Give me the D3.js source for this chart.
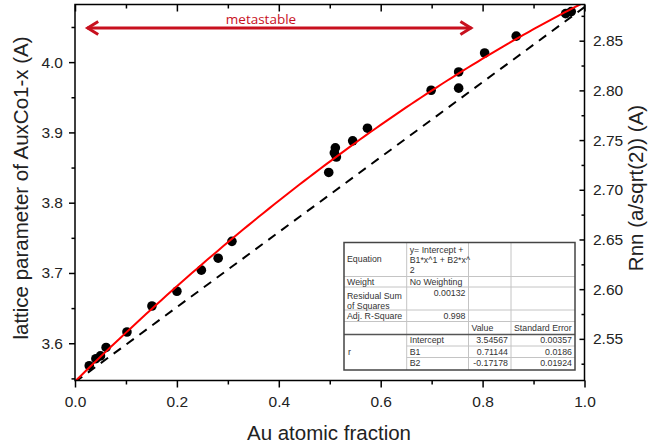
<!DOCTYPE html>
<html>
<head>
<meta charset="utf-8">
<script src="https://cdn.jsdelivr.net/npm/d3@7"></script>
<style>
  body { margin: 0; background: #fff; }
  svg { display: block; font-family: "Liberation Sans", Arial, sans-serif; }
</style>
</head>
<body>
<svg id="chart" width="648" height="447"></svg>
<script>
// Measured lattice parameter of AuxCo1-x films versus Au atomic fraction
const auFraction   = [0.028, 0.041, 0.050, 0.061, 0.102, 0.151, 0.200, 0.248, 0.281, 0.308,
                      0.498, 0.509, 0.511, 0.513, 0.545, 0.574, 0.699, 0.753, 0.753, 0.804,
                      0.866, 0.963, 0.974];
const latticeParam = [3.568, 3.578, 3.582, 3.594, 3.616, 3.653, 3.674, 3.704, 3.721, 3.745,
                      3.843, 3.871, 3.878, 3.865, 3.888, 3.906, 3.960, 3.963, 3.986, 4.013,
                      4.037, 4.069, 4.072];

// Quadratic fit: y = Intercept + B1*x + B2*x^2
const fitCoefs = [3.54567, 0.71144, -0.17178];

// Vegard's law between fcc Co (x = 0) and Au (x = 1)
const vegardEnds = [3.5447, 4.0782];

// Extent of the metastable region
const metastableRange = [0.022, 0.78];
const metastableLevel = 4.0485;

// Axis ticks
const xMajor  = [0, 0.2, 0.4, 0.6, 0.8, 1.0];
const xMinor  = [0.1, 0.3, 0.5, 0.7, 0.9];
const yMajor  = [3.6, 3.7, 3.8, 3.9, 4.0];
const yMinor  = [3.55, 3.65, 3.75, 3.85, 3.95, 4.05];
const rMajor  = [2.55, 2.60, 2.65, 2.70, 2.75, 2.80, 2.85];
const rMinor  = [2.525, 2.575, 2.625, 2.675, 2.725, 2.775, 2.825, 2.875];

// Fit report table contents
const reportLabels = [["Equation"], ["Weight"], ["Residual Sum", "of Squares"], ["Adj. R-Square"]];
const reportValues = [["y= Intercept +", "B1*x^1 + B2*x^", "2"], ["No Weighting"], ["0.00132"], ["0.998"]];
const paramHeader  = ["Value", "Standard Error"];
const paramNames   = ["Intercept", "B1", "B2"];
const paramValues  = ["3.54567", "0.71144", "-0.17178"];
const paramErrors  = ["0.00357", "0.0186", "0.01924"];

const svg = d3.select("#chart");
const L = 75, R = 584.5, T = 4.5, B = 380.5;

const x  = d3.scaleLinear().domain([0, 1]).range([L, R]);
const y  = d3.scaleLinear().domain([3.547, 4.082]).range([B, T]);
const yR = d3.scaleLinear().domain(y.domain().map(v => v / Math.SQRT2)).range([B, T]);

svg.append("clipPath").attr("id", "plotArea")
  .append("rect").attr("x", L).attr("y", T).attr("width", R - L).attr("height", B - T);

// data points
svg.append("g").selectAll("circle")
  .data(d3.zip(auFraction, latticeParam))
  .join("circle")
  .attr("cx", d => x(d[0]))
  .attr("cy", d => y(d[1]))
  .attr("r", 4.8)
  .attr("fill", "#000");

const lines = svg.append("g").attr("clip-path", "url(#plotArea)");

// Vegard line
lines.append("path")
  .datum([[0, vegardEnds[0]], [1, vegardEnds[1]]])
  .attr("d", d3.line().x(d => x(d[0])).y(d => y(d[1])))
  .attr("fill", "none")
  .attr("stroke", "#000")
  .attr("stroke-width", 2)
  .attr("stroke-dasharray", "9,7");

// quadratic fit curve
const fitXs = d3.range(0, 101).map(i => i / 100);
lines.append("path")
  .datum(fitXs)
  .attr("d", d3.line().x(v => x(v)).y(v => y(fitCoefs[0] + fitCoefs[1] * v + fitCoefs[2] * v * v)))
  .attr("fill", "none")
  .attr("stroke", "#ff0000")
  .attr("stroke-width", 2);

// axes
function styleAxis(g, withText) {
  g.select(".domain").remove();
  g.selectAll(".tick line").attr("stroke", "#000").attr("stroke-width", 1.5);
  g.selectAll(".tick text")
    .attr("font-size", 15.5)
    .attr("fill", "#222")
    .attr("font-family", "'Liberation Sans', Arial, sans-serif");
  if (!withText) g.selectAll(".tick text").remove();
}

svg.append("g").attr("transform", `translate(0,${B})`)
  .call(d3.axisBottom(x).tickValues(xMajor).tickSize(7).tickPadding(8).tickFormat(d3.format(".1f")))
  .call(g => styleAxis(g, true));
svg.append("g").attr("transform", `translate(0,${B})`)
  .call(d3.axisBottom(x).tickValues(xMinor).tickSize(4).tickFormat(""))
  .call(g => styleAxis(g, false));
svg.append("g").attr("transform", `translate(0,${T})`)
  .call(d3.axisTop(x).tickValues(xMajor).tickSize(-7).tickFormat(""))
  .call(g => styleAxis(g, false));
svg.append("g").attr("transform", `translate(0,${T})`)
  .call(d3.axisTop(x).tickValues(xMinor).tickSize(-4).tickFormat(""))
  .call(g => styleAxis(g, false));

svg.append("g").attr("transform", `translate(${L},0)`)
  .call(d3.axisLeft(y).tickValues(yMajor).tickSize(6).tickPadding(6).tickFormat(d3.format(".1f")))
  .call(g => styleAxis(g, true));
svg.append("g").attr("transform", `translate(${L},0)`)
  .call(d3.axisLeft(y).tickValues(yMinor).tickSize(3.5).tickFormat(""))
  .call(g => styleAxis(g, false));

svg.append("g").attr("transform", `translate(${R},0)`)
  .call(d3.axisRight(yR).tickValues(rMajor).tickSize(-5).tickPadding(8.5).tickFormat(d3.format(".2f")))
  .call(g => styleAxis(g, true));
svg.append("g").attr("transform", `translate(${R},0)`)
  .call(d3.axisRight(yR).tickValues(rMinor).tickSize(-3).tickFormat(""))
  .call(g => styleAxis(g, false));

// frame
svg.append("rect")
  .attr("x", L).attr("y", T).attr("width", R - L).attr("height", B - T)
  .attr("fill", "none").attr("stroke", "#000").attr("stroke-width", 1.5);

// axis titles
svg.append("text")
  .attr("x", 329).attr("y", 440)
  .attr("text-anchor", "middle")
  .attr("font-size", 20.5).attr("fill", "#222")
  .text("Au atomic fraction");
svg.append("text")
  .attr("transform", "translate(28,188) rotate(-90)")
  .attr("text-anchor", "middle")
  .attr("font-size", 20.5).attr("fill", "#222")
  .text("lattice parameter of AuxCo1-x (A)");
svg.append("text")
  .attr("transform", "translate(643,188) rotate(-90)")
  .attr("text-anchor", "middle")
  .attr("font-size", 20.5).attr("fill", "#222")
  .text("Rnn (a/sqrt(2)) (A)");

// metastable double arrow
const arrowColor = "#c8101e";
const ay = y(metastableLevel);
const ax0 = x(metastableRange[0]), ax1 = x(metastableRange[1]);
const arrow = svg.append("g").attr("stroke", arrowColor).attr("stroke-width", 3).attr("fill", "none");
arrow.append("line").attr("x1", ax0 + 1).attr("x2", ax1 - 1).attr("y1", ay).attr("y2", ay);
arrow.append("path").attr("d", `M${ax0 + 12},${ay - 6.5} L${ax0 + 1.5},${ay} L${ax0 + 12},${ay + 6.5}`);
arrow.append("path").attr("d", `M${ax1 - 12},${ay - 6.5} L${ax1 - 1.5},${ay} L${ax1 - 12},${ay + 6.5}`);
svg.append("text")
  .attr("x", 261).attr("y", ay - 4)
  .attr("text-anchor", "middle")
  .attr("font-size", 13.5)
  .attr("font-family", "'Open Sans', sans-serif")
  .attr("fill", arrowColor)
  .text("metastable");

// fit report table
const colX = [344, 406.7, 468.5, 511, 575];
const rowY = [242.5, 276.5, 287, 310, 321.5, 334.5, 346, 357.5, 370];
const tbl = svg.append("g").attr("font-size", 8.8).attr("fill", "#333");

tbl.append("rect")
  .attr("x", colX[0]).attr("y", rowY[0])
  .attr("width", colX[4] - colX[0]).attr("height", rowY[8] - rowY[0])
  .attr("fill", "#fff").attr("stroke", "none");

const grid = tbl.append("g").attr("stroke", "#c4c4c4").attr("stroke-width", 1);
[1, 2, 3].forEach(i => grid.append("line")
  .attr("x1", colX[i]).attr("x2", colX[i]).attr("y1", rowY[0]).attr("y2", rowY[8]));
[1, 2, 3, 4].forEach(i => grid.append("line")
  .attr("x1", colX[0]).attr("x2", colX[4]).attr("y1", rowY[i]).attr("y2", rowY[i]));
[6, 7].forEach(i => grid.append("line")
  .attr("x1", colX[1]).attr("x2", colX[4]).attr("y1", rowY[i]).attr("y2", rowY[i]));
tbl.append("line")
  .attr("x1", colX[0]).attr("x2", colX[4]).attr("y1", rowY[5]).attr("y2", rowY[5])
  .attr("stroke", "#555").attr("stroke-width", 1.3);
tbl.append("rect")
  .attr("x", colX[0]).attr("y", rowY[0])
  .attr("width", colX[4] - colX[0]).attr("height", rowY[8] - rowY[0])
  .attr("fill", "none").attr("stroke", "#444").attr("stroke-width", 1.5);

function cellText(lines, tx, ty, anchor) {
  lines.forEach((s, k) => tbl.append("text")
    .attr("x", tx).attr("y", ty + k * 10.3)
    .attr("text-anchor", anchor)
    .text(s));
}
const labelBase = [262, 285, 299, 319];
reportLabels.forEach((lines, i) => cellText(lines, colX[0] + 3, labelBase[i], "start"));
cellText(reportValues[0], colX[1] + 3, 252.5, "start");
cellText(reportValues[1], colX[1] + 3, 285, "start");
cellText(reportValues[2], colX[2] - 3, 296, "end");
cellText(reportValues[3], colX[2] - 3, 319, "end");
cellText([paramHeader[0]], colX[2] + 3, 331, "start");
cellText([paramHeader[1]], colX[3] + 3, 331, "start");
cellText(["r"], colX[0] + 4, 355, "start");
paramNames.forEach((s, i) => {
  const by = 343 + i * 11.7;
  cellText([s], colX[1] + 3, by, "start");
  cellText([paramValues[i]], colX[3] - 3, by, "end");
  cellText([paramErrors[i]], colX[4] - 3, by, "end");
});
</script>
</body>
</html>
